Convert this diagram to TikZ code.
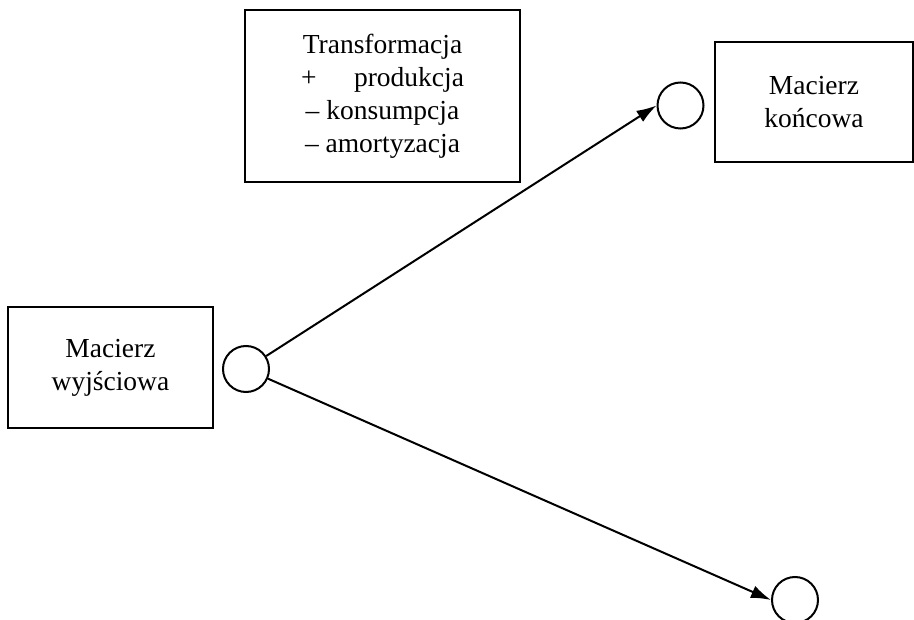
\documentclass[tikz,border=0pt]{standalone}
\usepackage{fontspec}
\setmainfont{Liberation Serif}
\usetikzlibrary{arrows.meta}

\tikzset{
  macbox/.style={draw, line width=2pt, rectangle, align=center, inner sep=0pt,
    font=\fontsize{27.5}{33}\selectfont},
  knot/.style={draw, line width=2pt, circle, minimum size=46pt, inner sep=0pt},
}

\begin{document}
\begin{tikzpicture}[x=1pt,y=-1pt,>={Latex[length=20pt,width=13pt]}]
  \useasboundingbox (0,0) rectangle (914,620); % rozmiar obrazka

  % prostokaty
  \node[macbox, minimum width=205pt, minimum height=121pt] (start) at (110.5,367.5) {Macierz\\wyjściowa};
  \node[macbox, minimum width=275pt, minimum height=172pt] (trans) at (382.5,96)
    {Transformacja\\\makebox[163pt][s]{+ produkcja}\\– konsumpcja\\– amortyzacja};
  \node[macbox, minimum width=198pt, minimum height=120pt] (koniec) at (814,102) {Macierz\\końcowa};

  % kolka
  \node[knot] (k0) at (246,369) {};
  \node[knot] (k1) at (680.5,105.5) {};
  \node[knot] (k2) at (795,600) {};

  % strzalki
  \draw[->, line width=2pt] (k0) -- (k1.west);
  \draw[->, line width=2pt] (k0) -- (k2.west);
\end{tikzpicture}
\end{document}
